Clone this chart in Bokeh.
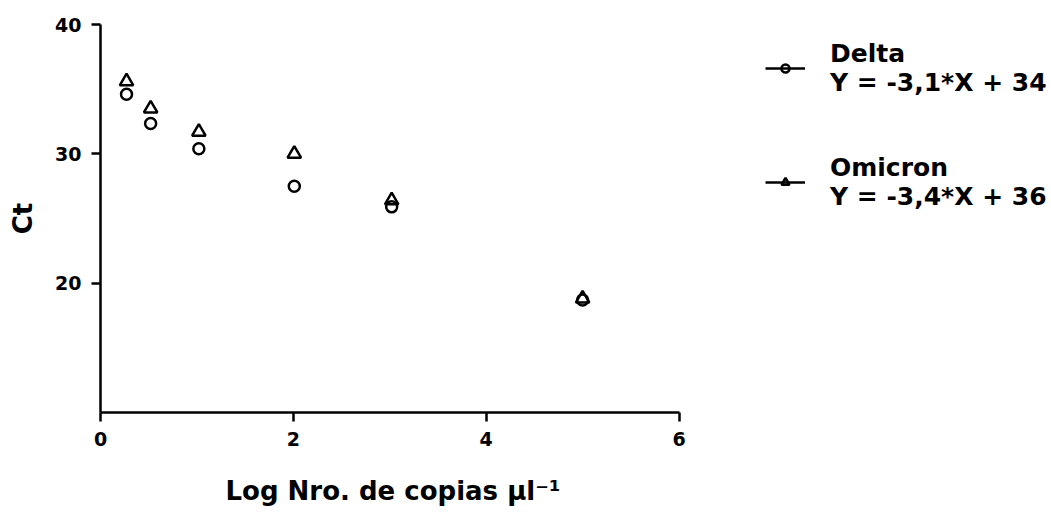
from bokeh.plotting import figure
from bokeh.models import Range1d, FixedTicker, Legend, LegendItem, Title
from bokeh.embed import file_html
from bokeh.resources import INLINE

# Data
log_copies = [0.27, 0.52, 1.02, 2.01, 3.02, 5.0]
ct_delta = [34.6, 32.35, 30.4, 27.5, 25.9, 18.7]
ct_omicron = [35.6, 33.5, 31.7, 30.0, 26.4, 18.8]
labels = ["Delta\nY = -3,1*X + 34", "Omicron\nY = -3,4*X + 36"]
x_ticks = [0, 2, 4, 6]
y_ticks = [20, 30, 40]
x_label = "Log Nro. de copias µl⁻¹"
y_label = "Ct"

FONT = "DejaVu Sans"

# plot frame extends to the right edge so the legend can sit beside the axes;
# the x axis itself is bounded to 0..6
W, H = 1051, 513
LEFT, TOP, BOTTOM = 100, 24, 101
AXIS_PX = 578.5
x_end = 6 * (W - LEFT) / AXIS_PX

p = figure(width=W, height=H, output_backend="svg", toolbar_location=None,
           x_range=Range1d(0, x_end), y_range=Range1d(10, 40),
           min_border_left=LEFT, min_border_right=0, min_border_top=TOP,
           min_border_bottom=BOTTOM)
p.outline_line_color = None
p.xgrid.visible = False
p.ygrid.visible = False
p.background_fill_color = "white"
p.border_fill_color = "white"

r_d = p.scatter(log_copies, ct_delta, marker="circle", size=11, line_color="black",
                line_width=2.5, fill_color=None)
r_o = p.scatter(log_copies, ct_omicron, marker="triangle", size=13.5, line_color="black",
                line_width=2.5, fill_color=None)
l_d = p.line(log_copies, ct_delta, line_color="black", line_width=2.5, visible=False)
l_o = p.line(log_copies, ct_omicron, line_color="black", line_width=2.5, visible=False)

for ax in (p.xaxis[0], p.yaxis[0]):
    ax.axis_line_width = 2.5
    ax.axis_line_color = "black"
    ax.major_tick_line_width = 2.5
    ax.major_tick_line_color = "black"
    ax.major_tick_out = 9
    ax.major_tick_in = 0
    ax.minor_tick_line_color = None
    ax.major_label_text_font = FONT
    ax.major_label_text_font_style = "bold"
    ax.major_label_text_font_size = "19px"
    ax.major_label_text_color = "black"
    ax.axis_label_text_font = FONT
    ax.axis_label_text_font_style = "bold"
    ax.axis_label_text_font_size = "26px"
    ax.axis_label_text_color = "black"

p.xaxis.ticker = FixedTicker(ticks=x_ticks)
p.yaxis.ticker = FixedTicker(ticks=y_ticks)
p.xaxis.bounds = (0, 6)
p.yaxis.axis_label = y_label
p.xaxis.major_label_standoff = 10
p.yaxis.major_label_standoff = 10
p.yaxis.axis_label_standoff = 14

# x-axis caption, centred under the 0..6 axis
title_kw = dict(text=x_label, align="left", offset=125, standoff=0,
                vertical_align="bottom", text_font=FONT, text_font_style="bold",
                text_font_size="26px", text_color="black")
try:
    xt = Title(padding=(0, 0, 25, 0), **title_kw)
except Exception:
    xt = Title(**dict(title_kw, standoff=24))
p.add_layout(xt, "below")

legend = Legend(items=[LegendItem(label=labels[0], renderers=[l_d, r_d]),
                       LegendItem(label=labels[1], renderers=[l_o, r_o])],
                location=(665, 201), border_line_color=None, background_fill_alpha=0,
                glyph_width=40, label_standoff=25, spacing=56, padding=0, margin=0,
                click_policy="none")
legend.label_text_font = FONT
legend.label_text_font_style = "bold"
legend.label_text_font_size = "25px"
legend.label_text_color = "black"
p.add_layout(legend, "center")

open("out.html", "w").write(file_html(p, INLINE))
